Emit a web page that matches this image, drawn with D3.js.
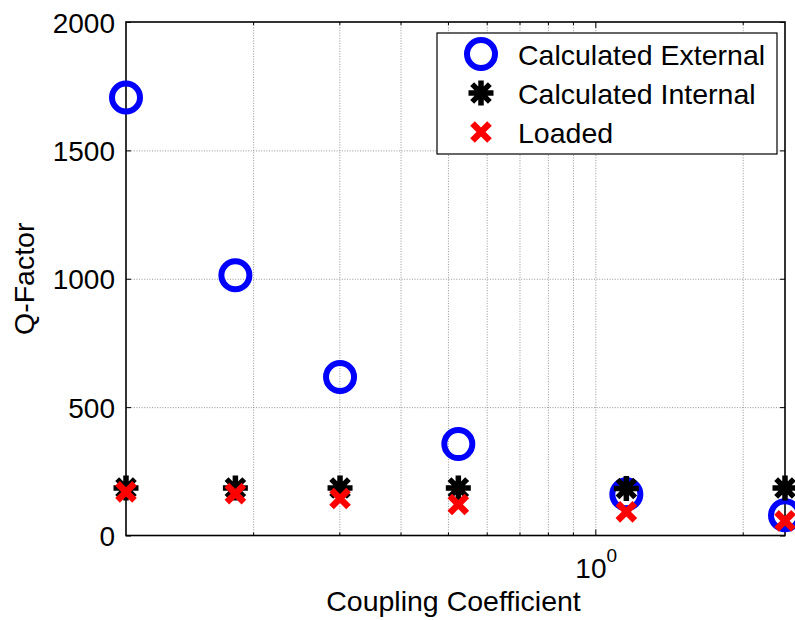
<!DOCTYPE html>
<html>
<head>
<meta charset="utf-8">
<script src="https://cdn.jsdelivr.net/npm/d3@7"></script>
<style>
  body { margin: 0; background: #fff; }
  text { font-family: Arial, "Liberation Sans", sans-serif; }
  .grid line { stroke: #7a7a7a; stroke-width: 0.8; stroke-dasharray: 1,1.6; }
  .grid path { display: none; }
</style>
</head>
<body>
<div id="chart"></div>
<script>
// coupling coefficient (log x) and the three Q-factor series
var coupling = [0.110, 0.184, 0.301, 0.525, 1.157, 2.44];
var qExternal = [1706, 1014, 617, 356, 161, 79];
var qInternal = [185, 185, 185, 185, 183, 185];
var qLoaded = [170, 163, 144, 121, 92, 57];
var yTicks = [0, 500, 1000, 1500, 2000];
var xMinorTicks = [0.2, 0.3, 0.4, 0.5, 0.6, 0.7, 0.8, 0.9, 2];
var xMajorTicks = [1];
var seriesNames = ["Calculated External", "Calculated Internal", "Loaded"];

var margin = { top: 22, right: 10, bottom: 84.5, left: 126 };
var width = 795 - margin.left - margin.right;
var height = 620 - margin.top - margin.bottom;

var svg = d3.select("#chart")
  .append("svg")
  .attr("width", 795)
  .attr("height", 620)
  .append("g")
  .attr("transform", "translate(" + margin.left + "," + margin.top + ")");

var x = d3.scaleLog()
  .domain([coupling[0], coupling[coupling.length - 1]])
  .range([0, width]);

var y = d3.scaleLinear()
  .domain([0, 2000])
  .range([height, 0]);

// dotted grid, matlab style
svg.append("g")
  .attr("class", "grid")
  .attr("transform", "translate(0," + height + ")")
  .call(d3.axisBottom(x).tickValues(xMinorTicks.concat(xMajorTicks)).tickSize(-height).tickFormat(""));
svg.append("g")
  .attr("class", "grid")
  .call(d3.axisLeft(y).tickValues(yTicks.slice(1, -1)).tickSize(-width).tickFormat(""));

// ticks pointing inward on all four sides
function styleTicks(g) {
  g.select(".domain").remove();
  g.selectAll("line").attr("stroke", "#000").attr("stroke-width", 1);
}
svg.append("g")
  .attr("transform", "translate(0," + height + ")")
  .call(d3.axisBottom(x).tickValues(xMinorTicks).tickSize(-3).tickFormat(""))
  .call(styleTicks);
svg.append("g")
  .attr("transform", "translate(0," + height + ")")
  .call(d3.axisBottom(x).tickValues(xMajorTicks).tickSize(-6).tickFormat(""))
  .call(styleTicks);
svg.append("g")
  .call(d3.axisTop(x).tickValues(xMinorTicks).tickSize(-3).tickFormat(""))
  .call(styleTicks);
svg.append("g")
  .call(d3.axisTop(x).tickValues(xMajorTicks).tickSize(-6).tickFormat(""))
  .call(styleTicks);
svg.append("g")
  .attr("transform", "translate(" + width + ",0)")
  .call(d3.axisRight(y).tickValues(yTicks).tickSize(-5).tickFormat(""))
  .call(styleTicks);

var yAxis = svg.append("g")
  .call(d3.axisLeft(y).tickValues(yTicks).tickFormat(d3.format("d")).tickSizeInner(-5).tickSizeOuter(0).tickPadding(11))
  .call(styleTicks);
yAxis.selectAll("text")
  .attr("font-size", "28px")
  .attr("font-family", "Arial, 'Liberation Sans', sans-serif")
  .attr("fill", "#000")
  .attr("dy", "0.36em");

// 10^0 label
xMajorTicks.forEach(function (t) {
  var lbl = svg.append("text")
    .attr("x", x(t) - 20)
    .attr("y", height + 42.5)
    .style("font-size", "28px");
  lbl.append("tspan").text("10");
  lbl.append("tspan")
    .attr("dy", -16)
    .style("font-size", "19px")
    .text(Math.round(Math.log10(t)));
});

// box
svg.append("rect")
  .attr("width", width)
  .attr("height", height)
  .attr("fill", "none")
  .attr("stroke", "#000")
  .attr("stroke-width", 1.6);

// axis titles
svg.append("text")
  .attr("x", width / 2 - 2)
  .attr("y", height + 75.5)
  .attr("text-anchor", "middle")
  .style("font-size", "28.5px")
  .text("Coupling Coefficient");

svg.append("text")
  .attr("transform", "rotate(-90)")
  .attr("x", -height / 2)
  .attr("y", -92)
  .attr("text-anchor", "middle")
  .style("font-size", "28.5px")
  .text("Q-Factor");

// marker shapes
var star8 = {
  draw: function (ctx, size) {
    var r = Math.sqrt(size) / 2;
    var d = r * Math.SQRT1_2;
    ctx.moveTo(-r, 0); ctx.lineTo(r, 0);
    ctx.moveTo(0, -r); ctx.lineTo(0, r);
    ctx.moveTo(-d, -d); ctx.lineTo(d, d);
    ctx.moveTo(-d, d); ctx.lineTo(d, -d);
  }
};
var cross = {
  draw: function (ctx, size) {
    var r = Math.sqrt(size) / 2;
    ctx.moveTo(-r, -r); ctx.lineTo(r, r);
    ctx.moveTo(-r, r); ctx.lineTo(r, -r);
  }
};

var markers = [
  { values: qExternal, draw: function (s) { s.append("circle").attr("r", 14).attr("fill", "none").attr("stroke", "#0000ff").attr("stroke-width", 6); } },
  { values: qInternal, draw: function (s) { s.append("path").attr("d", d3.symbol().type(star8).size(25 * 25)).attr("stroke", "#000").attr("stroke-width", 5.5).attr("fill", "none"); } },
  { values: qLoaded, draw: function (s) { s.append("path").attr("d", d3.symbol().type(cross).size(17 * 17)).attr("stroke", "#ff0000").attr("stroke-width", 6.5).attr("fill", "none"); } }
];

markers.forEach(function (m) {
  svg.append("g")
    .selectAll("g")
    .data(coupling)
    .enter()
    .append("g")
    .attr("transform", function (d, i) { return "translate(" + x(d) + "," + y(m.values[i]) + ")"; })
    .call(m.draw);
});

// legend
var legend = svg.append("g")
  .attr("transform", "translate(" + (437 - margin.left) + "," + (33 - margin.top) + ")");
legend.append("rect")
  .attr("width", 340)
  .attr("height", 121)
  .attr("fill", "#fff")
  .attr("stroke", "#000")
  .attr("stroke-width", 1.2);

seriesNames.forEach(function (name, i) {
  var row = legend.append("g")
    .attr("transform", "translate(44," + (21 + i * 39) + ")");
  markers[i].draw(row);
  row.append("text")
    .attr("x", 37)
    .attr("y", 11)
    .style("font-size", "28.5px")
    .text(name);
});
</script>
</body>
</html>
